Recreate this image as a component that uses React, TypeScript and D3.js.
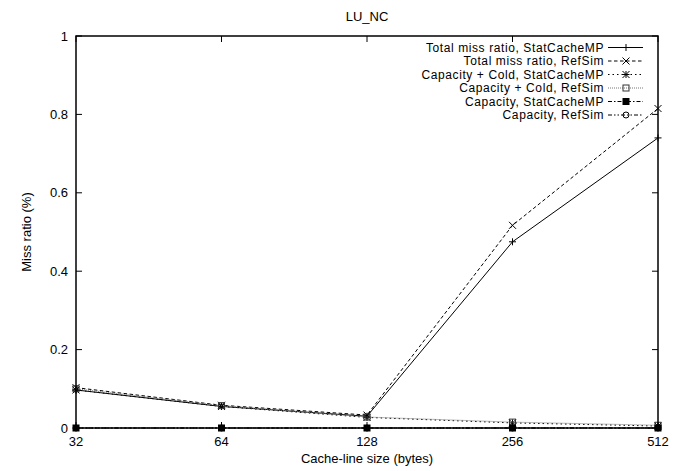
import React, { useEffect, useRef } from 'react';
import * as d3 from 'd3';

const lineSizes = [32, 64, 128, 256, 512];
const yTicks = [0, 0.2, 0.4, 0.6, 0.8, 1];

const totalStat = [0.097, 0.055, 0.030, 0.475, 0.740];
const totalRef = [0.103, 0.058, 0.033, 0.517, 0.815];
const capColdStat = [0.097, 0.055, 0.027, 0.013, 0.005];
const capColdRef = [0.100, 0.057, 0.028, 0.015, 0.007];
const capStat = [0, 0, 0, 0, 0];
const capRef = [0, 0, 0, 0, 0];

const seriesNames = [
    'Total miss ratio, StatCacheMP',
    'Total miss ratio, RefSim',
    'Capacity + Cold, StatCacheMP',
    'Capacity + Cold, RefSim',
    'Capacity, StatCacheMP',
    'Capacity, RefSim',
];

const App = () => {
    const chartRef = useRef<HTMLDivElement>(null);

    useEffect(() => {
        document.body.style.margin = '0';
        const width = 679;
        const height = 471;
        const margin = { top: 36, right: 21, bottom: 43, left: 76 };

        d3.select(chartRef.current).selectAll('*').remove();

        const svg = d3
            .select(chartRef.current)
            .append('svg')
            .attr('width', width)
            .attr('height', height)
            .style('display', 'block')
            .style('font-family', '"Liberation Sans", Arial, sans-serif')
            .style('font-size', '13px');

        const x = d3.scaleLog().base(2)
            .domain([32, 512])
            .range([margin.left, width - margin.right]);

        const y = d3.scaleLinear()
            .domain([0, 1])
            .range([height - margin.bottom, margin.top]);

        const series = [
            { name: seriesNames[0], values: totalStat, dash: null, color: '#000', marker: 'plus' },
            { name: seriesNames[1], values: totalRef, dash: '3.5,2.5', color: '#000', marker: 'cross' },
            { name: seriesNames[2], values: capColdStat, dash: '1.5,3', color: '#000', marker: 'star' },
            { name: seriesNames[3], values: capColdRef, dash: '1,1', color: '#777', marker: 'square' },
            { name: seriesNames[4], values: capStat, dash: '4,2,1.5,2', color: '#000', marker: 'fsquare' },
            { name: seriesNames[5], values: capRef, dash: '4,2,1.5,2,1.5,2', color: '#000', marker: 'circle' },
        ];

        const drawMarker = (g: any, type: string, cx: number, cy: number, color: string) => {
            const s = 3.5;
            if (type === 'plus' || type === 'star') {
                g.append('path').attr('d', `M${cx - s},${cy}H${cx + s}M${cx},${cy - s}V${cy + s}`)
                    .attr('stroke', color).attr('stroke-width', 1).attr('fill', 'none');
            }
            if (type === 'cross' || type === 'star') {
                g.append('path').attr('d', `M${cx - s},${cy - s}L${cx + s},${cy + s}M${cx - s},${cy + s}L${cx + s},${cy - s}`)
                    .attr('stroke', color).attr('stroke-width', 1).attr('fill', 'none');
            }
            if (type === 'square') {
                g.append('rect').attr('x', cx - 3).attr('y', cy - 3).attr('width', 6).attr('height', 6)
                    .attr('stroke', '#333').attr('stroke-width', 1).attr('fill', 'none');
            }
            if (type === 'fsquare') {
                g.append('rect').attr('x', cx - 3.5).attr('y', cy - 3.5).attr('width', 7).attr('height', 7)
                    .attr('fill', '#000');
            }
            if (type === 'circle') {
                g.append('circle').attr('cx', cx).attr('cy', cy).attr('r', 3)
                    .attr('stroke', '#000').attr('stroke-width', 1).attr('fill', 'none');
            }
        };

        // Tick marks, gnuplot style: inward on all four sides
        const tickLen = 6;
        const axes = svg.append('g').attr('stroke', '#000').attr('stroke-width', 1);
        yTicks.forEach((t) => {
            axes.append('line').attr('x1', margin.left).attr('x2', margin.left + tickLen).attr('y1', y(t)).attr('y2', y(t));
            axes.append('line').attr('x1', width - margin.right).attr('x2', width - margin.right - tickLen).attr('y1', y(t)).attr('y2', y(t));
            svg.append('text').attr('x', margin.left - 8).attr('y', y(t)).attr('dy', '0.35em')
                .attr('text-anchor', 'end').text(d3.format('~g')(t));
        });
        lineSizes.forEach((t) => {
            axes.append('line').attr('x1', x(t)).attr('x2', x(t)).attr('y1', y(0)).attr('y2', y(0) - tickLen);
            axes.append('line').attr('x1', x(t)).attr('x2', x(t)).attr('y1', y(1)).attr('y2', y(1) + tickLen);
            svg.append('text').attr('x', x(t)).attr('y', y(0) + 18)
                .attr('text-anchor', 'middle').text(t);
        });

        // Series lines and markers
        const line = d3.line<number>()
            .x((_, i) => x(lineSizes[i]))
            .y((d) => y(d));

        series.forEach((s) => {
            svg.append('path')
                .datum(s.values)
                .attr('fill', 'none')
                .attr('stroke', s.color)
                .attr('stroke-width', 1)
                .attr('stroke-dasharray', s.dash)
                .attr('d', line);
            const mg = svg.append('g');
            s.values.forEach((v, i) => drawMarker(mg, s.marker, x(lineSizes[i]), y(v), s.color));
        });

        // Frame
        svg.append('rect')
            .attr('x', margin.left).attr('y', margin.top)
            .attr('width', width - margin.left - margin.right)
            .attr('height', height - margin.top - margin.bottom)
            .attr('fill', 'none').attr('stroke', '#000').attr('stroke-width', 1.5);

        // Legend
        const legend = svg.append('g').style('font-size', '12px').style('letter-spacing', '0.6px');
        series.forEach((s, i) => {
            const ly = 47.5 + i * 13.5;
            legend.append('text').attr('x', 604).attr('y', ly).attr('dy', '0.35em')
                .attr('text-anchor', 'end').text(s.name);
            legend.append('line').attr('x1', 608).attr('x2', 643).attr('y1', ly).attr('y2', ly)
                .attr('stroke', s.color).attr('stroke-width', 1).attr('stroke-dasharray', s.dash);
            drawMarker(legend, s.marker, 626, ly, s.color);
        });

        // Labels
        svg.append('text').attr('x', (margin.left + width - margin.right) / 2).attr('y', 20.5)
            .attr('text-anchor', 'middle').text('LU_NC');
        svg.append('text').attr('x', (margin.left + width - margin.right) / 2).attr('y', 463)
            .attr('text-anchor', 'middle').text('Cache-line size (bytes)');
        svg.append('text')
            .attr('transform', `translate(31,${(margin.top + height - margin.bottom) / 2}) rotate(-90)`)
            .attr('text-anchor', 'middle').text('Miss ratio (%)');
    }, []);

    return <div ref={chartRef}></div>;
};

export default App;
